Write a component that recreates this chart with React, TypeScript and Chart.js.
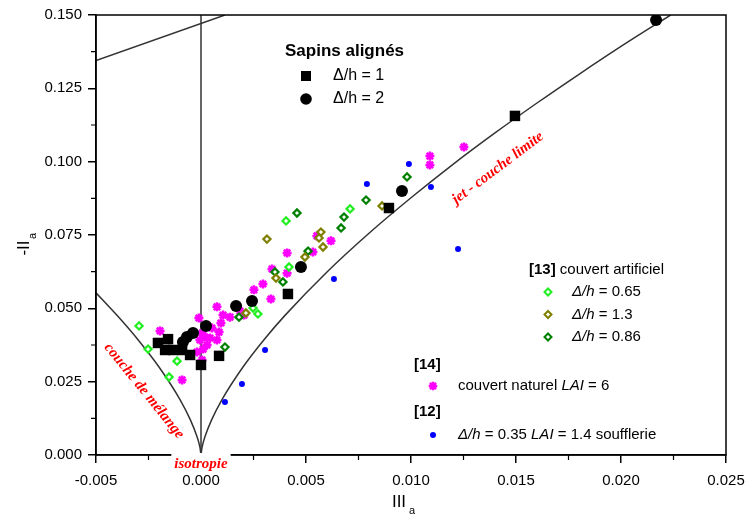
import React, { useEffect, useRef } from 'react';
import { Chart, registerables } from 'chart.js';

Chart.register(...registerables);

// ---- data (III_a, -II_a) ----
const xTicks = [-0.005, 0, 0.005, 0.01, 0.015, 0.02, 0.025];
const yTicks = [0, 0.025, 0.05, 0.075, 0.1, 0.125, 0.15];

const sapins1: number[][] = [
  [-0.00205, 0.0382], [-0.00157, 0.0395], [-0.00171, 0.0358], [-0.00133, 0.0358],
  [-0.0009, 0.0358], [-0.00052, 0.0341], [0.0, 0.0307], [0.00086, 0.0338],
  [0.00414, 0.0549], [0.00895, 0.0842], [0.01495, 0.1156],
];
const sapins2: number[][] = [
  [-0.00086, 0.0385], [-0.00067, 0.0402], [-0.00038, 0.0416], [0.00024, 0.044],
  [0.00167, 0.0508], [0.00243, 0.0525], [0.00476, 0.0641], [0.00957, 0.09],
  [0.02167, 0.1483],
];
const art065: number[][] = [
  [-0.00295, 0.044], [-0.00252, 0.0361], [-0.00114, 0.032], [-0.00152, 0.0266],
  [0.00248, 0.0501], [0.00271, 0.0481], [0.00419, 0.0641], [0.00405, 0.0798], [0.0071, 0.0839],
];
const art13: number[][] = [
  [0.00314, 0.0736], [0.00571, 0.076], [0.00562, 0.074], [0.00581, 0.0709],
  [0.00495, 0.0675], [0.00357, 0.0603], [0.00214, 0.0484], [0.00862, 0.0849],
];
const art086: number[][] = [
  [0.00457, 0.0825], [0.00681, 0.0811], [0.00667, 0.0774], [0.00786, 0.0869],
  [0.00981, 0.0948], [0.0051, 0.0695], [0.00352, 0.0624], [0.0039, 0.059],
  [0.00181, 0.047], [0.00114, 0.0368],
];
const naturel: number[][] = [
  [-0.00195, 0.0423], [-0.0009, 0.0256], [-0.0001, 0.0467], [0.00005, 0.0416],
  [0.00019, 0.0402], [-0.00005, 0.0392], [-0.00019, 0.0351], [0.0001, 0.0361],
  [0.00005, 0.0324], [0.00052, 0.0433], [0.00076, 0.0392], [0.00086, 0.0419],
  [0.00095, 0.045], [0.00076, 0.0505], [0.00105, 0.0477], [0.00138, 0.047],
  [0.00186, 0.0491], [0.00205, 0.0477], [0.00252, 0.0563], [0.00295, 0.0583],
  [0.00333, 0.0532], [0.00338, 0.0634], [0.0041, 0.062], [0.0041, 0.0689],
  [0.00533, 0.0692], [0.00552, 0.0747], [0.00619, 0.073], [0.0109, 0.0989],
  [0.0109, 0.1019], [0.01252, 0.105], [0.00043, 0.0399], [0.00029, 0.0375],
];
const soufflerie: number[][] = [
  [0.00114, 0.0181], [0.00195, 0.0242], [0.00305, 0.0358], [0.00633, 0.06],
  [0.0079, 0.0924], [0.0099, 0.0992], [0.01095, 0.0914], [0.01224, 0.0702],
];

// Lumley triangle boundaries
const lumleyLeft: number[][] = [
  [-0.005, 0.0553], [-0.004, 0.0476], [-0.003, 0.0393], [-0.002, 0.03],
  [-0.001, 0.0189], [-0.0005, 0.0119], [-0.0002, 0.00646], [-0.00005, 0.00257], [0, 0],
];
const lumleyRight: number[][] = [
  [0, 0], [0.00005, 0.00257], [0.0002, 0.00646], [0.0005, 0.0119], [0.001, 0.0189],
  [0.002, 0.03], [0.003, 0.0393], [0.004, 0.0476], [0.006, 0.0624], [0.008, 0.0756],
  [0.01, 0.0877], [0.012, 0.0991], [0.014, 0.1098], [0.016, 0.12], [0.018, 0.1298],
  [0.02, 0.1393], [0.02236, 0.15],
];
const isoLine: number[][] = [[0, 0], [0, 0.15]];
const twoCompLine: number[][] = [[-0.005, 0.1345], [0.00114, 0.15]];

const toPts = (a: number[][]) => a.map(([x, y]) => ({ x, y }));
const SANS = '"Liberation Sans", Arial, sans-serif';
const SERIF = '"Liberation Serif", "Times New Roman", serif';

function drawRich(ctx: CanvasRenderingContext2D, x: number, y: number, parts: [string, string][]) {
  let cx = x;
  ctx.textBaseline = 'middle';
  ctx.textAlign = 'left';
  for (const [t, f] of parts) {
    ctx.font = f;
    ctx.fillText(t, cx, y);
    cx += ctx.measureText(t).width;
  }
}

function marker(ctx: CanvasRenderingContext2D, kind: string, x: number, y: number, color: string) {
  ctx.save();
  ctx.fillStyle = color;
  ctx.strokeStyle = color;
  if (kind === 'square') {
    ctx.fillRect(x - 5, y - 5, 10, 10);
  } else if (kind === 'circle') {
    ctx.beginPath(); ctx.arc(x, y, 5.8, 0, Math.PI * 2); ctx.fill();
  } else if (kind === 'dot') {
    ctx.beginPath(); ctx.arc(x, y, 3, 0, Math.PI * 2); ctx.fill();
  } else if (kind === 'diamond') {
    ctx.lineWidth = 2;
    ctx.beginPath();
    ctx.moveTo(x, y - 3.5); ctx.lineTo(x + 3.5, y); ctx.lineTo(x, y + 3.5); ctx.lineTo(x - 3.5, y); ctx.closePath();
    ctx.fillStyle = '#fff'; ctx.fill(); ctx.stroke();
  } else if (kind === 'star') {
    ctx.lineWidth = 2.4;
    const r = 4.3;
    ctx.beginPath();
    for (let i = 0; i < 4; i++) {
      const a = (i * Math.PI) / 4;
      ctx.moveTo(x - Math.cos(a) * r, y - Math.sin(a) * r);
      ctx.lineTo(x + Math.cos(a) * r, y + Math.sin(a) * r);
    }
    ctx.stroke();
  }
  ctx.restore();
}

const overlay = {
  id: 'overlay',
  afterDraw(chart: any) {
    const ctx: CanvasRenderingContext2D = chart.ctx;
    const { left, right, top, bottom } = chart.chartArea;
    const xs = chart.scales.x;
    const ys = chart.scales.y;
    ctx.save();
    // frame
    ctx.strokeStyle = '#000';
    ctx.lineWidth = 1.5;
    ctx.strokeRect(left, top, right - left, bottom - top);
    // minor ticks
    ctx.lineWidth = 1.2;
    ctx.beginPath();
    for (let i = 0; i < xTicks.length - 1; i++) {
      const px = xs.getPixelForValue((xTicks[i] + xTicks[i + 1]) / 2);
      ctx.moveTo(px, bottom); ctx.lineTo(px, bottom + 5);
    }
    for (let i = 0; i < yTicks.length - 1; i++) {
      const py = ys.getPixelForValue((yTicks[i] + yTicks[i + 1]) / 2);
      ctx.moveTo(left, py); ctx.lineTo(left - 5, py);
    }
    ctx.stroke();

    // axis titles
    ctx.fillStyle = '#000';
    ctx.font = `17px ${SANS}`;
    ctx.textAlign = 'center';
    ctx.textBaseline = 'alphabetic';
    ctx.fillText('III', 399, 507);
    ctx.font = `11px ${SANS}`;
    ctx.textAlign = 'left';
    ctx.fillText('a', 409, 514);
    ctx.save();
    ctx.translate(29, 248);
    ctx.rotate(-Math.PI / 2);
    ctx.font = `17px ${SANS}`;
    ctx.textAlign = 'center';
    ctx.fillText('-II', 0, 0);
    ctx.font = `11px ${SANS}`;
    ctx.textAlign = 'left';
    ctx.fillText('a', 9, 7);
    ctx.restore();

    // Sapins legend
    ctx.fillStyle = '#000';
    ctx.font = `bold 17px ${SANS}`;
    ctx.textAlign = 'left';
    ctx.textBaseline = 'middle';
    ctx.fillText('Sapins alignés', 285, 51);
    marker(ctx, 'square', 306, 76, '#000');
    marker(ctx, 'circle', 306, 99, '#000');
    ctx.fillStyle = '#000';
    drawRich(ctx, 333, 76, [['Δ/h = 1', `16px ${SANS}`]]);
    drawRich(ctx, 333, 99, [['Δ/h = 2', `16px ${SANS}`]]);

    // references legend
    ctx.fillStyle = '#000';
    drawRich(ctx, 529, 270, [['[13]', `bold 15px ${SANS}`], [' couvert artificiel', `15px ${SANS}`]]);
    const arts: [string, string][] = [['0.65', '#22ee22'], ['1.3', '#808000'], ['0.86', '#008000']];
    arts.forEach(([v, c], i) => {
      const y = 292 + i * 22.5;
      marker(ctx, 'diamond', 548, y, c);
      ctx.fillStyle = '#000';
      drawRich(ctx, 572, y, [['Δ/h', `italic 15px ${SANS}`], [' = ' + v, `15px ${SANS}`]]);
    });
    ctx.fillStyle = '#000';
    drawRich(ctx, 414, 365, [['[14]', `bold 15px ${SANS}`]]);
    marker(ctx, 'star', 433, 386, '#ff00ff');
    ctx.fillStyle = '#000';
    drawRich(ctx, 458, 386, [['couvert naturel ', `15px ${SANS}`], ['LAI', `italic 15px ${SANS}`], [' = 6', `15px ${SANS}`]]);
    drawRich(ctx, 414, 412, [['[12]', `bold 15px ${SANS}`]]);
    marker(ctx, 'dot', 433, 435, '#0000ff');
    ctx.fillStyle = '#000';
    drawRich(ctx, 458, 435, [
      ['Δ/h', `italic 15px ${SANS}`], [' = 0.35 ', `15px ${SANS}`], ['LAI', `italic 15px ${SANS}`],
      [' = 1.4 soufflerie', `15px ${SANS}`],
    ]);

    // red annotations
    ctx.fillStyle = '#ff0000';
    ctx.font = `bold italic 15px ${SERIF}`;
    ctx.textAlign = 'center';
    ctx.textBaseline = 'middle';
    ctx.save();
    ctx.translate(144, 391);
    ctx.rotate((51 * Math.PI) / 180);
    ctx.fillText('couche de mélange', 0, 0);
    ctx.restore();
    ctx.save();
    ctx.translate(498, 168);
    ctx.rotate((-37 * Math.PI) / 180);
    ctx.fillText('jet - couche limite', 0, 0);
    ctx.restore();
    // isotropie with white background
    const tw = ctx.measureText('isotropie').width;
    ctx.fillStyle = '#fff';
    ctx.fillRect(201 - tw / 2 - 3, bottom - 2, tw + 6, 17);
    ctx.fillStyle = '#ff0000';
    ctx.fillText('isotropie', 201, 464);
    ctx.restore();
  },
};

export default function App() {
  const ref = useRef<HTMLCanvasElement | null>(null);
  useEffect(() => {
    document.body.style.margin = '0';
    const canvas = ref.current!;
    const lineDs = (data: number[][], smooth: boolean) => ({
      type: 'line' as const,
      data: toPts(data),
      showLine: true,
      borderColor: '#333',
      borderWidth: 1.5,
      pointRadius: 0,
      fill: false,
      cubicInterpolationMode: smooth ? ('monotone' as const) : ('default' as const),
      order: 10,
    });
    const chart = new Chart(canvas, {
      type: 'scatter',
      data: {
        datasets: [
          { data: toPts(sapins1), pointStyle: 'rect', radius: 7.4, backgroundColor: '#000', borderColor: '#000', borderWidth: 0, order: 1 } as any,
          { data: toPts(sapins2), pointStyle: 'circle', radius: 6, backgroundColor: '#000', borderColor: '#000', borderWidth: 0, order: 1 } as any,
          { data: toPts(naturel), pointStyle: 'star', radius: 4.5, backgroundColor: '#ff00ff', borderColor: '#ff00ff', borderWidth: 2.5, order: 3 } as any,
          { data: toPts(art065), pointStyle: 'rectRot', radius: 3.6, backgroundColor: '#fff', borderColor: '#22ee22', borderWidth: 2.2, order: 2 } as any,
          { data: toPts(art13), pointStyle: 'rectRot', radius: 3.6, backgroundColor: '#fff', borderColor: '#808000', borderWidth: 2.2, order: 2 } as any,
          { data: toPts(art086), pointStyle: 'rectRot', radius: 3.6, backgroundColor: '#fff', borderColor: '#008000', borderWidth: 2.2, order: 2 } as any,
          { data: toPts(soufflerie), pointStyle: 'circle', radius: 3, backgroundColor: '#0000ff', borderColor: '#0000ff', borderWidth: 0, order: 2 } as any,
          lineDs(lumleyLeft, true) as any,
          lineDs(lumleyRight, true) as any,
          lineDs(isoLine, false) as any,
          lineDs(twoCompLine, false) as any,
        ],
      },
      options: {
        animation: false,
        responsive: false,
        devicePixelRatio: 1,
        layout: { padding: { top: 15, right: 21, left: 0, bottom: 0 } },
        plugins: { legend: { display: false }, tooltip: { enabled: false } },
        elements: { point: { hoverRadius: 0 } },
        scales: {
          x: {
            type: 'linear',
            min: -0.005,
            max: 0.025,
            afterBuildTicks: (s: any) => { s.ticks = xTicks.map((v) => ({ value: v })); },
            afterFit: (s: any) => { s.height = 60; s.paddingLeft = 0; s.paddingRight = 0; },
            grid: { display: true, drawOnChartArea: false, drawTicks: true, tickLength: 8, color: '#000', lineWidth: 1.5 },
            border: { display: true, color: '#000', width: 1.5 },
            ticks: {
              color: '#000',
              font: { family: SANS, size: 15 },
              padding: 9,
              maxRotation: 0,
              autoSkip: false,
              callback: (v: any) => (Math.abs(v) < 1e-9 ? 0 : v).toFixed(3),
            },
          },
          y: {
            type: 'linear',
            min: 0,
            max: 0.15,
            afterBuildTicks: (s: any) => { s.ticks = yTicks.map((v) => ({ value: v })); },
            afterFit: (s: any) => { s.width = 96; s.paddingTop = 0; s.paddingBottom = 0; },
            grid: { display: true, drawOnChartArea: false, drawTicks: true, tickLength: 8, color: '#000', lineWidth: 1.5 },
            border: { display: true, color: '#000', width: 1.5 },
            ticks: {
              color: '#000',
              font: { family: SANS, size: 15 },
              padding: 6,
              autoSkip: false,
              callback: (v: any) => (Math.abs(v) < 1e-9 ? 0 : v).toFixed(3),
            },
          },
        },
      },
      plugins: [overlay],
    });
    return () => chart.destroy();
  }, []);
  return (
    <div style={{ position: 'absolute', left: 0, top: 0, width: 747, height: 515 }}>
      <canvas ref={ref} width={747} height={515} />
    </div>
  );
}
